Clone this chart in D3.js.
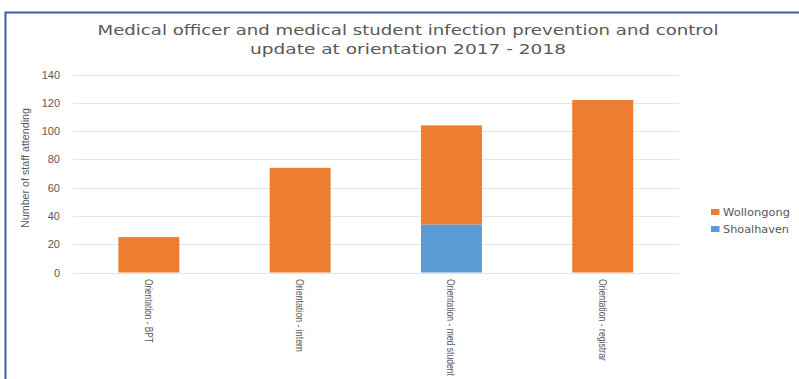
<!DOCTYPE html>
<html><head><meta charset="utf-8">
<script src="https://cdn.jsdelivr.net/npm/d3@7"></script>
<style>body{margin:0;background:#fff;} svg{display:block;}</style>
</head><body>
<svg id="c" width="799" height="379"></svg>
<script>
const categories = ["Orientation - BPT", "Orientation - intern", "Orientation - med student", "Orientation - registrar"];
const shoalhaven = [0, 0, 34, 0];
const wollongong = [25, 74, 70, 122];
const yTicks = [0, 20, 40, 60, 80, 100, 120, 140];
const seriesNames = ["Shoalhaven", "Wollongong"];
const colors = {Shoalhaven: "#5B9BD5", Wollongong: "#ED7D31"};
const titleLines = ["Medical officer and medical student infection prevention and control", "update at orientation 2017 - 2018"];
const yTitle = "Number of staff attending";

const svg = d3.select("#c");
const grey = "#595959";
svg.append("rect").attr("x", 0).attr("y", 0).attr("width", 799).attr("height", 379).attr("fill", "#fff");
svg.append("path").attr("d", "M5.5,379 V12.5 H799").attr("fill", "none").attr("stroke", "#3c5ea6").attr("stroke-width", 2);

const x = d3.scaleBand().domain(categories).range([73.2, 678.4]).paddingInner(0.597).paddingOuter(0.2985);
const y = d3.scaleLinear().domain([0, 140]).range([272.5, 74.5]);

svg.append("g").selectAll("line").data(yTicks).join("line")
  .attr("x1", 73).attr("x2", 679)
  .attr("y1", d => Math.round(y(d)) + 0.5).attr("y2", d => Math.round(y(d)) + 0.5)
  .attr("stroke", "#e6e6e6").attr("stroke-width", 1);

svg.append("g").selectAll("text").data(yTicks).join("text")
  .attr("x", 60).attr("y", d => y(d) + 4)
  .attr("text-anchor", "end").attr("font-family", "Liberation Sans, Arial, sans-serif")
  .attr("font-size", 11).attr("fill", grey).text(d => d);

const rows = categories.map((c, i) => ({cat: c, Shoalhaven: shoalhaven[i], Wollongong: wollongong[i]}));
const stack = d3.stack().keys(seriesNames)(rows);
svg.append("g").selectAll("g").data(stack).join("g")
  .attr("fill", s => colors[s.key])
  .selectAll("rect").data(s => s.filter(d => d[1] > d[0])).join("rect")
  .attr("x", d => x(d.data.cat)).attr("width", x.bandwidth())
  .attr("y", d => y(d[1])).attr("height", d => y(d[0]) - y(d[1]));

const xLens = [64, 73, 97, 82];
svg.append("g").selectAll("text").data(categories).join("text")
  .attr("font-family", "Liberation Sans, Arial, sans-serif")
  .attr("font-size", 11).attr("fill", grey)
  .text(d => d)
  .each(function(d, i) {
    const w = this.getComputedTextLength();
    const sx = xLens[i] / w;
    d3.select(this).attr("transform", `translate(${x(d) + x.bandwidth()/2 - 4},279) rotate(90) scale(${sx},1)`);
  });

svg.append("text")
  .attr("text-anchor", "middle")
  .attr("font-family", "Liberation Sans, Arial, sans-serif")
  .attr("font-size", 11).attr("fill", grey)
  .text(yTitle)
  .each(function() {
    const sx = 120 / this.getComputedTextLength();
    d3.select(this).attr("transform", `translate(29,168) rotate(-90) scale(${sx},1)`);
  });

const titleLens = [621, 316];
svg.append("g").selectAll("text").data(titleLines).join("text")
  .attr("x", 408).attr("y", (d, i) => 35 + i * 18.5)
  .attr("text-anchor", "middle").attr("font-family", "DejaVu Sans, Verdana, sans-serif")
  .attr("font-size", 14.5).attr("fill", grey)
  .attr("textLength", (d, i) => titleLens[i]).attr("lengthAdjust", "spacingAndGlyphs")
  .text(d => d);

const legendOrder = ["Wollongong", "Shoalhaven"];
const legendLens = [67, 66];
const lg = svg.append("g").selectAll("g").data(legendOrder).join("g")
  .attr("transform", (d, i) => `translate(711,${212 + i * 17})`);
lg.append("rect").attr("x", 0).attr("y", -3).attr("width", 8.5).attr("height", 6).attr("fill", d => colors[d]);
lg.append("text").attr("x", 12).attr("y", 4)
  .attr("font-family", "DejaVu Sans, Verdana, sans-serif")
  .attr("font-size", 10.5).attr("fill", grey)
  .attr("textLength", (d, i) => legendLens[i]).attr("lengthAdjust", "spacingAndGlyphs")
  .text(d => d);
</script>
</body></html>
